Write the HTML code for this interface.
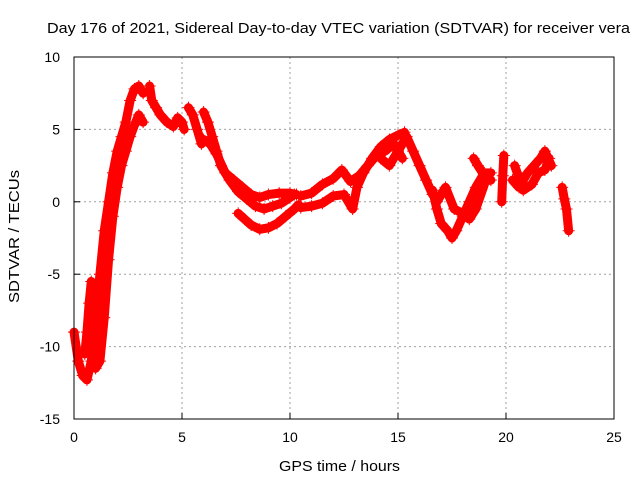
<!DOCTYPE html>
<html><head><meta charset="utf-8"><style>
body{margin:0;background:#fff}
svg text{font-family:"Liberation Sans",sans-serif;font-size:14px;fill:#000}
</style></head><body>
<svg id="c" width="640" height="480">
<text x="47" y="33" textLength="583" lengthAdjust="spacingAndGlyphs" style="font-size:15px">Day 176 of 2021, Sidereal Day-to-day VTEC variation (SDTVAR) for receiver vera</text>
<text x="279" y="471" textLength="121" lengthAdjust="spacingAndGlyphs" style="font-size:15px">GPS time / hours</text>
<text transform="translate(19,303) rotate(-90)" textLength="133" lengthAdjust="spacingAndGlyphs" style="font-size:15px">SDTVAR / TECUs</text>
<g id="grid"></g><g id="ticks"></g><g id="marks"></g>
<rect x="74" y="57" width="540" height="362" fill="none" stroke="#000" stroke-width="1"/>
</svg>
<script>
const xTicks=[0,5,10,15,20,25];
const yTicks=[-15,-10,-5,0,5,10];
const track1T=[0.0,0.2,0.4,0.6,0.8,1.0,1.2,1.4,1.6,1.8,2.0,2.2,2.4,2.6,2.8,3.0,3.2];
const track1V=[-9,-11,-12,-12.3,-11,-8,-5,-2,0,2,3.5,4.5,5.5,7,7.8,8,7.5];
const track2T=[0.8,1.0,1.2,1.4,1.6,1.8,2.0,2.2,2.4,2.6,2.8,3.0,3.2];
const track2V=[-10,-11.5,-11,-8,-4,-1,1,2.5,3.5,4.5,5.3,6,5.5];
const track3T=[0.5,0.6,0.7,0.8];
const track3V=[-10.5,-9,-7,-5.5];
const track4T=[3.5,3.6,3.8,4.0,4.3,4.6,4.8,5.0,5.1];
const track4V=[8,7,6.5,6,5.5,5.2,5.8,5.5,5];
const track5T=[5.3,5.5,5.7,5.9,6.0,6.3,6.6,7.0,7.4,7.8,8.2,8.6,9.0,9.5,10.0,10.3];
const track5V=[6.5,6,5,4,4.3,4,3.3,2,1.5,1,0.5,0.3,0.5,0.6,0.6,0.5];
const track6T=[6.0,6.2,6.4,6.6,6.8,7.2,7.6,8.0,8.4,8.8,9.2,9.6,10.0,10.2];
const track6V=[6.2,5.5,4.5,3.5,2.5,1.5,0.7,0.2,-0.3,-0.5,-0.3,-0.1,0.3,0.5];
const track7T=[7.6,7.9,8.2,8.6,9.0,9.4,9.8,10.2,10.4];
const track7V=[-0.8,-1.2,-1.6,-1.9,-1.8,-1.5,-1.0,-0.5,-0.2];
const track8T=[10.5,11.0,11.5,12.0,12.4,12.8,13.2,13.6,14.0,14.4,14.8,15.2];
const track8V=[0.4,0.6,1.2,1.6,2.2,1.4,1.8,2.5,3.2,3.5,4.0,3.0];
const track9T=[10.5,11.0,11.5,12.0,12.5,12.9,13.1,13.4,13.8,14.2,14.6,15.0,15.3];
const track9V=[-0.4,-0.3,-0.1,0.4,0.5,-0.5,1.0,2.0,3.0,3.8,4.3,4.6,4.8];
const track10T=[14.2,14.6,15.0,15.4,15.7,16.0,16.3,16.6];
const track10V=[3.0,2.5,3.5,4.5,3.5,2.5,1.5,0.5];
const track11T=[16.6,16.8,17.0,17.3,17.5,17.7,18.0,18.3,18.6,19.0,19.3];
const track11V=[0.8,-0.5,-1.5,-2.0,-2.5,-2.0,-1,0,1.0,2.0,2.0];
const track12T=[16.8,17.2,17.6,18.0,18.3,18.6,19.0];
const track12V=[0,1.0,-0.5,-0.8,-1.2,-0.5,1.2];
const track13T=[18.5,18.7,19.0,19.3];
const track13V=[3,2.5,1.8,1.5];
const track14T=[19.8,19.85,19.9];
const track14V=[0,1.8,3.2];
const track15T=[20.3,20.6,21.0,21.3,21.6,21.8,22.1];
const track15V=[1.5,1.0,2.0,2.5,3.0,3.5,2.5];
const track16T=[20.4,20.8,21.2,21.5,21.8,22.0];
const track16V=[2.5,0.8,1.2,2.0,2.2,3.0];
const track17T=[22.6,22.7,22.8,22.9];
const track17V=[1,0.2,-0.5,-2];
const tracksT=[track1T,track2T,track3T,track4T,track5T,track6T,track7T,track8T,track9T,track10T,track11T,track12T,track13T,track14T,track15T,track16T,track17T];
const tracksV=[track1V,track2V,track3V,track4V,track5V,track6V,track7V,track8V,track9V,track10V,track11V,track12V,track13V,track14V,track15V,track16V,track17V];
const NS="http://www.w3.org/2000/svg";
const X=t=>74+t*540/25, Y=v=>419-(v+15)*362/25;
const grid=document.getElementById('grid'),ticks=document.getElementById('ticks'),marks=document.getElementById('marks');
function mk(tag,at,p){const e=document.createElementNS(NS,tag);for(const k in at)e.setAttribute(k,at[k]);p.appendChild(e);return e;}
xTicks.forEach(t=>{const x=X(t);
 if(t>0&&t<25){const g=mk('line',{x1:x,x2:x,y1:57,y2:419,stroke:'#a0a0a0','stroke-dasharray':'2,3'},grid);
 
 }
 const l=mk('line',{x1:x,x2:x,y1:419,y2:413,stroke:'#000'},ticks);
 
 
 const tx=mk('text',{x:x,y:442,'text-anchor':'middle'},ticks);tx.textContent=t;
 
 
});
yTicks.forEach(v=>{const y=Y(v);
 if(v>-15&&v<10){const g=mk('line',{x1:74,x2:614,y1:y,y2:y,stroke:'#a0a0a0','stroke-dasharray':'2,3'},grid);
 
 }
 const l=mk('line',{x1:74,x2:80,y1:y,y2:y,stroke:'#000'},ticks);
 
 
 const tx=mk('text',{x:60,y:y+5,'text-anchor':'end'},ticks);tx.textContent=v;
 
 
});
tracksT.forEach((ts,i)=>{const vs=tracksV[i];
 const pl=mk('polyline',{points:ts.map((t,j)=>X(t)+','+Y(vs[j])).join(' '),fill:'none',stroke:'#f00','stroke-width':9,'stroke-linejoin':'round','stroke-linecap':'round'},marks);
 
 
 ts.forEach((t,j)=>{const x=X(t),y=Y(vs[j]);
  const p=mk('path',{d:`M${x-6},${y}h12M${x},${y-6}v12`,stroke:'#f00','stroke-width':1},marks);
  
  
 });
});
</script>
</body></html>
